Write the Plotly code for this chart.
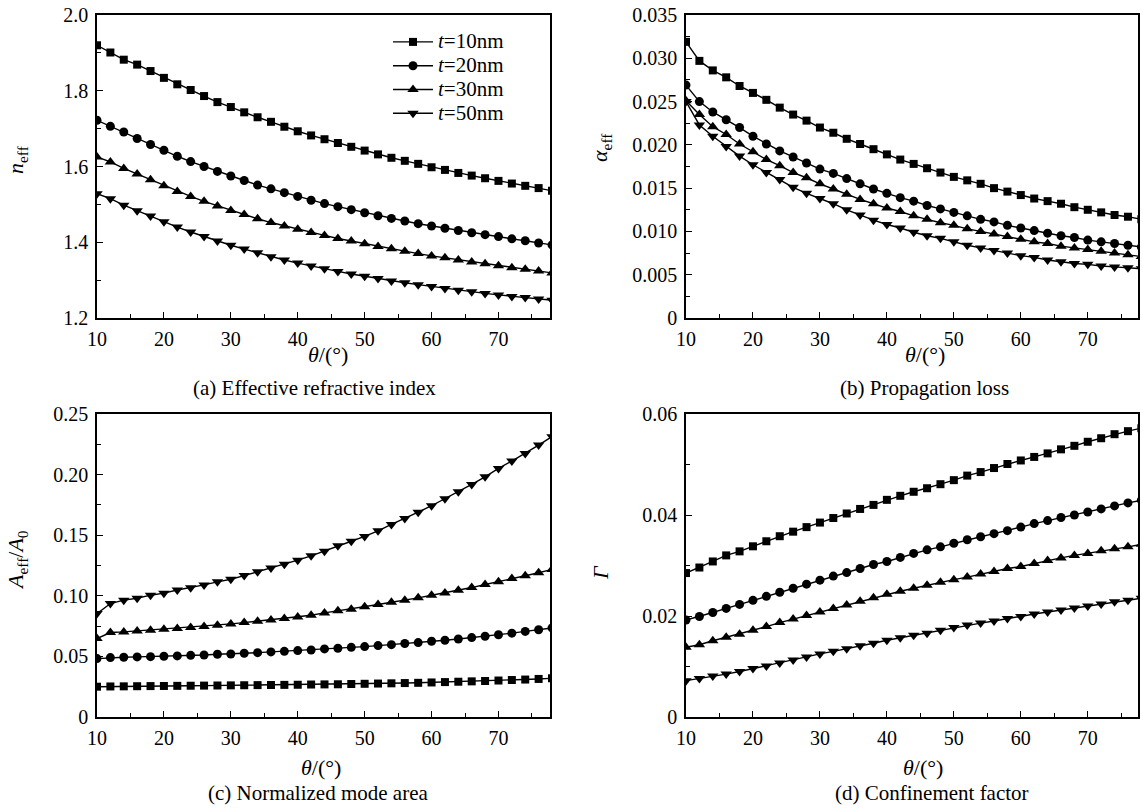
import plotly.graph_objects as go

theta = [10, 12, 14, 16, 18, 20, 22, 24, 26, 28, 30, 32, 34, 36, 38, 40, 42, 44,
         46, 48, 50, 52, 54, 56, 58, 60, 62, 64, 66, 68, 70, 72, 74, 76, 78]

series_names = ["<i>t</i>=10nm", "<i>t</i>=20nm", "<i>t</i>=30nm", "<i>t</i>=50nm"]

# (a) effective refractive index
neff_t10 = [1.920, 1.901, 1.882, 1.869, 1.852, 1.834, 1.817, 1.802, 1.786, 1.770, 1.757, 1.743, 1.730, 1.718, 1.705, 1.693, 1.682, 1.672, 1.662, 1.652, 1.642, 1.632, 1.623, 1.615, 1.607, 1.598, 1.591, 1.583, 1.576, 1.569, 1.562, 1.555, 1.549, 1.543, 1.536]
neff_t20 = [1.722, 1.706, 1.691, 1.674, 1.658, 1.643, 1.627, 1.613, 1.600, 1.587, 1.575, 1.563, 1.551, 1.541, 1.531, 1.521, 1.511, 1.502, 1.494, 1.486, 1.478, 1.470, 1.463, 1.456, 1.449, 1.443, 1.437, 1.431, 1.425, 1.420, 1.415, 1.409, 1.404, 1.398, 1.393]
neff_t30 = [1.625, 1.612, 1.595, 1.580, 1.565, 1.549, 1.534, 1.521, 1.508, 1.496, 1.484, 1.473, 1.462, 1.452, 1.443, 1.434, 1.426, 1.418, 1.410, 1.403, 1.396, 1.389, 1.383, 1.376, 1.370, 1.364, 1.359, 1.353, 1.348, 1.343, 1.338, 1.333, 1.329, 1.324, 1.319]
neff_t50 = [1.528, 1.515, 1.498, 1.483, 1.469, 1.454, 1.440, 1.427, 1.415, 1.403, 1.392, 1.382, 1.372, 1.362, 1.353, 1.345, 1.337, 1.330, 1.323, 1.316, 1.310, 1.304, 1.298, 1.293, 1.288, 1.283, 1.278, 1.273, 1.269, 1.265, 1.261, 1.257, 1.254, 1.250, 1.247]

# (b) propagation loss
alpha_t10 = [0.0319, 0.0297, 0.0286, 0.0278, 0.0268, 0.0260, 0.0252, 0.0243, 0.0235, 0.0228, 0.0220, 0.0214, 0.0207, 0.0201, 0.0195, 0.0189, 0.0183, 0.0178, 0.0173, 0.0168, 0.0163, 0.0159, 0.0155, 0.0150, 0.0146, 0.0142, 0.0138, 0.0135, 0.0132, 0.0128, 0.0125, 0.0122, 0.0119, 0.0117, 0.0114]
alpha_t20 = [0.0269, 0.0250, 0.0238, 0.0229, 0.0220, 0.0210, 0.0201, 0.0193, 0.0186, 0.0179, 0.0172, 0.0167, 0.0161, 0.0155, 0.0149, 0.0144, 0.0139, 0.0135, 0.0130, 0.0126, 0.0122, 0.0118, 0.0114, 0.0111, 0.0107, 0.0104, 0.0101, 0.0098, 0.0095, 0.0093, 0.0090, 0.0088, 0.0086, 0.0084, 0.0082]
alpha_t30 = [0.0251, 0.0235, 0.0221, 0.0212, 0.0201, 0.0192, 0.0183, 0.0176, 0.0168, 0.0162, 0.0155, 0.0149, 0.0143, 0.0137, 0.0132, 0.0127, 0.0123, 0.0118, 0.0114, 0.0110, 0.0107, 0.0103, 0.0100, 0.0097, 0.0094, 0.0091, 0.0088, 0.0086, 0.0083, 0.0081, 0.0079, 0.0077, 0.0075, 0.0073, 0.0071]
alpha_t50 = [0.0250, 0.0223, 0.0210, 0.0198, 0.0187, 0.0177, 0.0168, 0.0160, 0.0151, 0.0144, 0.0138, 0.0132, 0.0125, 0.0119, 0.0113, 0.0108, 0.0104, 0.0099, 0.0095, 0.0092, 0.0088, 0.0084, 0.0081, 0.0078, 0.0075, 0.0072, 0.0070, 0.0067, 0.0065, 0.0063, 0.0062, 0.0060, 0.0059, 0.0058, 0.0057]

# (c) normalized mode area
area_t10 = [0.0250, 0.0252, 0.0253, 0.0254, 0.0255, 0.0256, 0.0257, 0.0258, 0.0259, 0.0260, 0.0261, 0.0262, 0.0263, 0.0264, 0.0265, 0.0266, 0.0268, 0.0269, 0.0270, 0.0272, 0.0274, 0.0276, 0.0278, 0.0280, 0.0282, 0.0285, 0.0288, 0.0291, 0.0294, 0.0297, 0.0301, 0.0305, 0.0309, 0.0314, 0.0320]
area_t20 = [0.0482, 0.0490, 0.0493, 0.0496, 0.0498, 0.0501, 0.0504, 0.0509, 0.0512, 0.0518, 0.0520, 0.0526, 0.0531, 0.0537, 0.0542, 0.0548, 0.0553, 0.0562, 0.0567, 0.0575, 0.0581, 0.0589, 0.0597, 0.0606, 0.0614, 0.0625, 0.0633, 0.0644, 0.0655, 0.0666, 0.0679, 0.0692, 0.0706, 0.0720, 0.0735]
area_t30 = [0.0647, 0.0697, 0.0702, 0.0710, 0.0716, 0.0724, 0.0730, 0.0738, 0.0746, 0.0757, 0.0768, 0.0779, 0.0790, 0.0801, 0.0812, 0.0826, 0.0840, 0.0859, 0.0876, 0.0889, 0.0909, 0.0928, 0.0947, 0.0964, 0.0983, 0.1005, 0.1024, 0.1046, 0.1068, 0.1093, 0.1115, 0.1143, 0.1165, 0.1190, 0.1218]
area_t50 = [0.0853, 0.0936, 0.0964, 0.0980, 0.1005, 0.1022, 0.1048, 0.1066, 0.1090, 0.1115, 0.1137, 0.1167, 0.1198, 0.1230, 0.1260, 0.1294, 0.1330, 0.1368, 0.1412, 0.1450, 0.1490, 0.1536, 0.1589, 0.1638, 0.1690, 0.1743, 0.1800, 0.1858, 0.1919, 0.1982, 0.2051, 0.2112, 0.2175, 0.2244, 0.2313]

# (d) confinement factor
gamma_t10 = [0.0285, 0.0296, 0.0308, 0.0320, 0.0328, 0.0338, 0.0348, 0.0358, 0.0367, 0.0376, 0.0385, 0.0394, 0.0403, 0.0412, 0.0420, 0.0430, 0.0438, 0.0446, 0.0453, 0.0461, 0.0469, 0.0478, 0.0485, 0.0493, 0.0501, 0.0508, 0.0515, 0.0522, 0.0530, 0.0537, 0.0545, 0.0552, 0.0560, 0.0566, 0.0572]
gamma_t20 = [0.0192, 0.0199, 0.0207, 0.0215, 0.0223, 0.0231, 0.0239, 0.0247, 0.0255, 0.0263, 0.0271, 0.0279, 0.0286, 0.0294, 0.0302, 0.0308, 0.0316, 0.0324, 0.0331, 0.0337, 0.0344, 0.0351, 0.0357, 0.0363, 0.0369, 0.0376, 0.0383, 0.0389, 0.0395, 0.0400, 0.0406, 0.0412, 0.0418, 0.0424, 0.0429]
gamma_t30 = [0.0138, 0.0143, 0.0151, 0.0158, 0.0164, 0.0172, 0.0179, 0.0187, 0.0194, 0.0201, 0.0208, 0.0215, 0.0222, 0.0229, 0.0236, 0.0243, 0.0249, 0.0255, 0.0261, 0.0267, 0.0272, 0.0277, 0.0283, 0.0288, 0.0294, 0.0298, 0.0304, 0.0310, 0.0315, 0.0320, 0.0324, 0.0329, 0.0333, 0.0337, 0.0342]
gamma_t50 = [0.0072, 0.0076, 0.0081, 0.0085, 0.0090, 0.0096, 0.0101, 0.0107, 0.0113, 0.0119, 0.0125, 0.0130, 0.0135, 0.0141, 0.0146, 0.0152, 0.0157, 0.0162, 0.0166, 0.0172, 0.0177, 0.0182, 0.0186, 0.0190, 0.0195, 0.0199, 0.0204, 0.0208, 0.0212, 0.0216, 0.0220, 0.0224, 0.0228, 0.0231, 0.0235]

x_tickvals = [10, 20, 30, 40, 50, 60, 70]
x_ticktext = ["10", "20", "30", "40", "50", "60", "70"]

ya_tickvals = [1.2, 1.4, 1.6, 1.8, 2.0]
ya_ticktext = ["1.2", "1.4", "1.6", "1.8", "2.0"]
yb_tickvals = [0, 0.005, 0.010, 0.015, 0.020, 0.025, 0.030, 0.035]
yb_ticktext = ["0", "0.005", "0.010", "0.015", "0.020", "0.025", "0.030", "0.035"]
yc_tickvals = [0, 0.05, 0.10, 0.15, 0.20, 0.25]
yc_ticktext = ["0", "0.05", "0.10", "0.15", "0.20", "0.25"]
yd_tickvals = [0, 0.02, 0.04, 0.06]
yd_ticktext = ["0", "0.02", "0.04", "0.06"]

panels = [
    dict(xa="x", ya="y", data=[neff_t10, neff_t20, neff_t30, neff_t50]),
    dict(xa="x2", ya="y2", data=[alpha_t10, alpha_t20, alpha_t30, alpha_t50]),
    dict(xa="x3", ya="y3", data=[area_t10, area_t20, area_t30, area_t50]),
    dict(xa="x4", ya="y4", data=[gamma_t10, gamma_t20, gamma_t30, gamma_t50]),
]
symbols = ["square", "circle", "triangle-up", "triangle-down"]
msizes = [8, 9, 10, 10]

FONT = "Liberation Serif, Times New Roman, serif"
fig = go.Figure()
for pi, p in enumerate(panels):
    for si, ys in enumerate(p["data"]):
        fig.add_trace(go.Scatter(
            x=theta, y=ys, xaxis=p["xa"], yaxis=p["ya"],
            mode="lines+markers",
            name="<span style='font-size:21px'>" + series_names[si] + "</span>",
            showlegend=(pi == 0),
            line=dict(color="black", width=1.4),
            marker=dict(symbol=symbols[si], size=msizes[si], color="black"),
        ))

W, H = 1143, 809
def dx(a, b):
    return [a / W, b / W]
def dy(top, bottom):
    return [1 - bottom / H, 1 - top / H]

tickfont = dict(family=FONT, size=20, color="black")

def xaxis(domain, anchor, rng):
    return dict(domain=domain, anchor=anchor, range=rng, automargin=False,
                tickvals=x_tickvals, ticktext=x_ticktext,
                ticks="inside", ticklen=6, tickwidth=1.3, tickcolor="black",
                minor=dict(ticks="inside", ticklen=4, tickwidth=1.2, tickcolor="black", dtick=5, tick0=0),
                showline=True, linecolor="black", linewidth=1.5, mirror=True,
                showgrid=False, zeroline=False, tickfont=tickfont, ticklabelstandoff=2)

def yaxis(domain, anchor, rng, tv, tt, minor_dtick):
    return dict(domain=domain, anchor=anchor, range=rng, automargin=False,
                tickvals=tv, ticktext=tt,
                ticks="inside", ticklen=6, tickwidth=1.3, tickcolor="black",
                minor=dict(ticks="inside", ticklen=4, tickwidth=1.2, tickcolor="black", dtick=minor_dtick, tick0=0),
                showline=True, linecolor="black", linewidth=1.5, mirror=True,
                showgrid=False, zeroline=False, tickfont=tickfont, ticklabelstandoff=3)

XA = dx(97, 550)
XB = dx(686, 1138)
YTOP = dy(15, 318)
YBOT = dy(414, 717)

fig.update_layout(
    width=W, height=H,
    margin=dict(l=0, r=0, t=0, b=0, pad=0, autoexpand=False),
    paper_bgcolor="white", plot_bgcolor="white",
    font=dict(family=FONT, color="black"),
    xaxis=xaxis(XA, "y", [10, 77.7]),
    yaxis=yaxis(YTOP, "x", [1.2, 2.0], ya_tickvals, ya_ticktext, 0.1),
    xaxis2=xaxis(XB, "y2", [10, 77.5]),
    yaxis2=yaxis(YTOP, "x2", [0, 0.035], yb_tickvals, yb_ticktext, 0.0025),
    xaxis3=xaxis(XA, "y3", [10, 77.7]),
    yaxis3=yaxis(YBOT, "x3", [0, 0.25], yc_tickvals, yc_ticktext, 0.025),
    xaxis4=xaxis(XB, "y4", [10, 77.5]),
    yaxis4=yaxis(YBOT, "x4", [0, 0.06], yd_tickvals, yd_ticktext, 0.01),
    legend=dict(x=388 / W, y=1 - 25 / H, xanchor="left", yanchor="top",
                bgcolor="rgba(0,0,0,0)", font=dict(family=FONT, size=16, color="black"),
                tracegroupgap=0, itemwidth=40),
    showlegend=True,
)

# axis titles (text, x, y, angle)
labels = [
    ("<i>n</i><sub>eff</sub>", 17, 160, -90),
    ("<i>α</i><sub>eff</sub>", 601, 148, -90),
    ("<i>A</i><sub>eff</sub>/<i>A</i><sub>0</sub>", 17, 560, -90),
    ("<i>Γ</i>", 600, 573, -90),
    ("<i>θ</i>/(°)", 328, 355, 0),
    ("<i>θ</i>/(°)", 925, 355, 0),
    ("<i>θ</i>/(°)", 321, 767, 0),
    ("<i>θ</i>/(°)", 923, 767, 0),
]
for text, cx, cy, ang in labels:
    fig.add_annotation(text=text, x=cx / W, y=1 - cy / H, xref="paper", yref="paper",
                       showarrow=False, xanchor="center", yanchor="middle", textangle=ang,
                       font=dict(family=FONT, size=22, color="black"))

captions = [
    ("(a) Effective refractive index", 314, 388),
    ("(b) Propagation loss", 924, 388),
    ("(c) Normalized mode area", 318, 793),
    ("(d) Confinement factor", 932, 793),
]
for text, cx, cy in captions:
    fig.add_annotation(text=text, x=cx / W, y=1 - cy / H, xref="paper", yref="paper",
                       showarrow=False, xanchor="center", yanchor="middle",
                       font=dict(family=FONT, size=21, color="black"))

fig.write_html("out.html", config={"displayModeBar": False},
               post_script="document.body.style.margin='0';")
